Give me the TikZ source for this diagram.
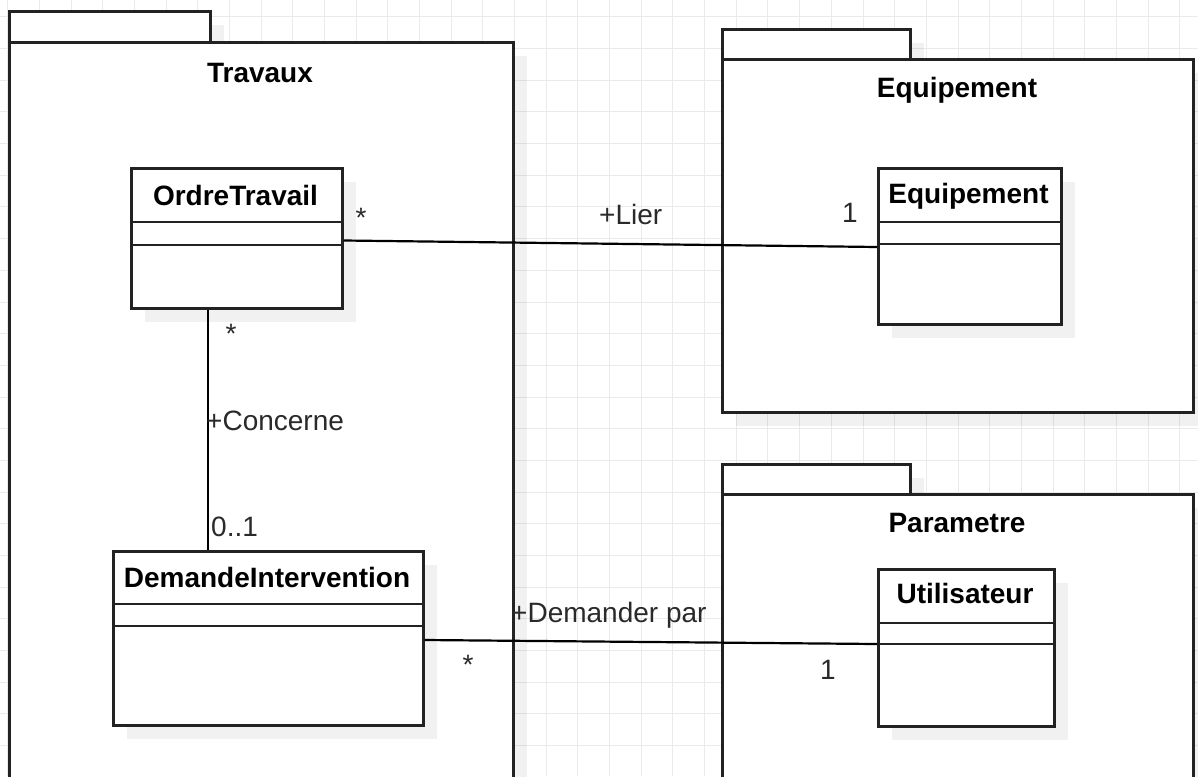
\documentclass[tikz,border=0pt]{standalone}
\usepackage{fontspec}
\setmainfont{Liberation Sans}
\usetikzlibrary{calc}
\definecolor{edgec}{HTML}{222222}
\definecolor{gridc}{HTML}{EAEAEA}
\definecolor{lblc}{HTML}{2A2A2A}
\begin{document}
\begin{tikzpicture}[x=1pt,y=-1pt,
  pkgbox/.style={draw=edgec, line width=2.7pt, fill=white, rectangle, inner sep=0pt, anchor=north west},
  shadowbox/.style={fill=black, fill opacity=0.055, draw=none},
  clsbox/.style={draw=edgec, line width=2.7pt, fill=white, rectangle, inner sep=0pt, anchor=north west},
  clsline/.style={draw=edgec, line width=2.7pt},
  titletext/.style={font=\bfseries\fontsize{28}{33}\selectfont, anchor=base, inner sep=0pt, text=black},
  lbl/.style={font=\fontsize{28}{33}\selectfont, inner sep=0pt, text=lblc},
  conn/.style={draw=black, line width=2.2pt}]
\useasboundingbox (0,0) rectangle (1198,776);
\begin{scope}
\clip (0,0) rectangle (1198,776);
\fill[white] (0,0) rectangle (1198,776);
% grid
\foreach \i in {0,...,38} { \draw[gridc, line width=1pt] ({7.9+31.67*\i},0) -- ({7.9+31.67*\i},776); }
\foreach \j in {0,...,25} { \draw[gridc, line width=1pt] (0,{-14.7+31.67*\j}) -- (1198,{-14.7+31.67*\j}); }

% package shadows
\fill[shadowbox] (23,25) rectangle (224,56);
\fill[shadowbox] (23,56) rectangle (527,820);
\fill[shadowbox] (736,43) rectangle (924,73);
\fill[shadowbox] (736,73) rectangle (1207,426);
\fill[shadowbox] (736,478) rectangle (924,508);
\fill[shadowbox] (736,508) rectangle (1207,820);

% packages
\node[pkgbox, minimum width=201pt, minimum height=31pt] (travtab) at (8,10) {};
\node[pkgbox, minimum width=504pt, minimum height=780pt] (trav) at (8,41) {};
\node[pkgbox, minimum width=188pt, minimum height=30pt] (eqptab) at (721,28) {};
\node[pkgbox, minimum width=471pt, minimum height=353pt] (eqp) at (721,58) {};
\node[pkgbox, minimum width=188pt, minimum height=30pt] (partab) at (721,463) {};
\node[pkgbox, minimum width=471pt, minimum height=330pt] (par) at (721,493) {};

\node[titletext] (travname) at (260,82) {Travaux};
\node[titletext] (eqpname) at (957,97) {Equipement};
\node[titletext] (parname) at (957,532) {Parametre};

% class shadows
\fill[shadowbox] (145,182) rectangle (356,322);
\fill[shadowbox] (892,182) rectangle (1075,338);
\fill[shadowbox] (127,565) rectangle (437,739);
\fill[shadowbox] (892,583) rectangle (1068,740);

% classes
\node[clsbox, minimum width=211pt, minimum height=140pt] (ot) at (130,167) {};
\draw[clsline] (ot.west |- 0,222) -- (ot.east |- 0,222);
\draw[clsline] (ot.west |- 0,245) -- (ot.east |- 0,245);
\node[titletext] (otname) at (235.5,205) {OrdreTravail};

\node[clsbox, minimum width=183pt, minimum height=156pt] (eq) at (877,167) {};
\draw[clsline] (eq.west |- 0,222) -- (eq.east |- 0,222);
\draw[clsline] (eq.west |- 0,244) -- (eq.east |- 0,244);
\node[titletext] (eqname) at (968.5,203.5) {Equipement};

\node[clsbox, minimum width=310pt, minimum height=174pt] (di) at (112,550) {};
\draw[clsline] (di.west |- 0,604) -- (di.east |- 0,604);
\draw[clsline] (di.west |- 0,626) -- (di.east |- 0,626);
\node[titletext] (diname) at (267,587) {DemandeIntervention};

\node[clsbox, minimum width=176pt, minimum height=157pt] (ut) at (877,568) {};
\draw[clsline] (ut.west |- 0,623) -- (ut.east |- 0,623);
\draw[clsline] (ut.west |- 0,644) -- (ut.east |- 0,644);
\node[titletext] (utname) at (965,603.5) {Utilisateur};

% connectors
\draw[conn] (ot.east |- 0,240.5) -- (eq.west |- 0,247);
\draw[conn] (208,0 |- ot.south) -- (208,0 |- di.north);
\draw[conn] (di.east |- 0,640) -- (ut.west |- 0,644);

% labels
\node[lbl, anchor=base] (m1) at (361,227) {*};
\node[lbl, anchor=base west] (lier) at (599,224) {+Lier};
\node[lbl, anchor=base] (m2) at (850,222) {1};
\node[lbl, anchor=base] (m3) at (231,343) {*};
\node[lbl, anchor=base west] (conc) at (206,430) {+Concerne};
\node[lbl, anchor=base west] (m4) at (211,536) {0..1};
\node[lbl, anchor=base] (m5) at (468,674) {*};
\node[lbl, anchor=base west] (dem) at (511,622) {+Demander par};
\node[lbl, anchor=base] (m6) at (828,679) {1};
\end{scope}
\end{tikzpicture}
\end{document}
